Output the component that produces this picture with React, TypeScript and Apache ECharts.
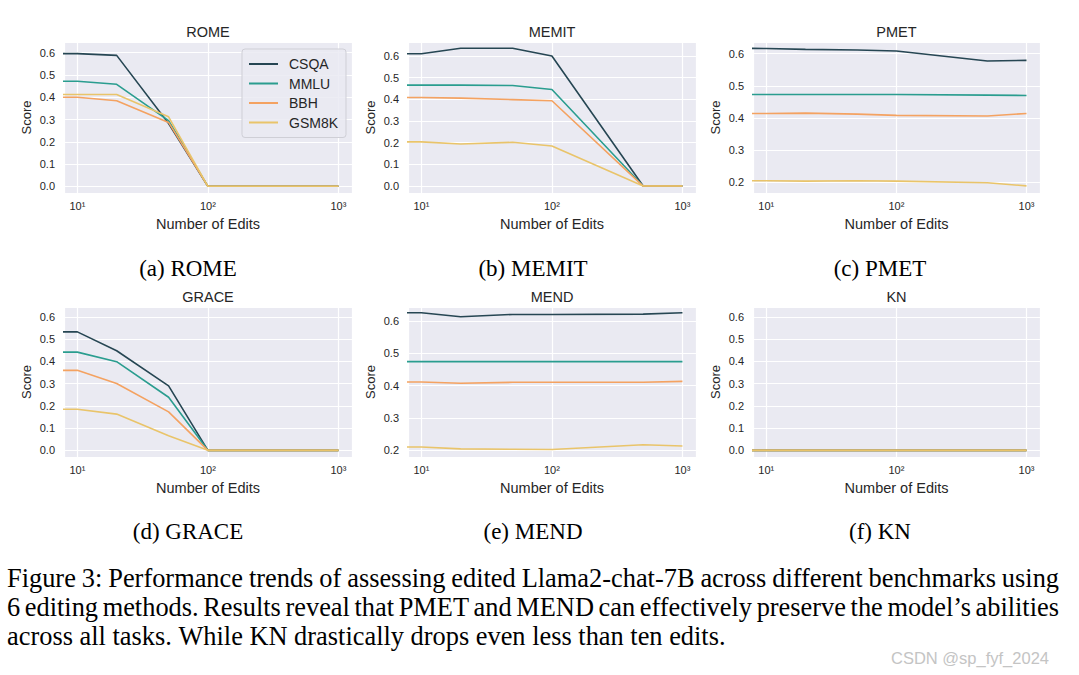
import React, { useEffect, useRef } from 'react';
import * as echarts from 'echarts';

// ---------- data ----------
const EDITS = [1, 10, 20, 50, 100, 500, 1000];
const BENCHMARKS = ['CSQA', 'MMLU', 'BBH', 'GSM8K'];
const COLORS = ['#264653', '#2a9d8f', '#f4a261', '#e9c46a'];
const METHODS = ['ROME', 'MEMIT', 'PMET', 'GRACE', 'MEND', 'KN'];
const SUBCAPTIONS = ['(a) ROME', '(b) MEMIT', '(c) PMET', '(d) GRACE', '(e) MEND', '(f) KN'];

const ROME_CSQA = [0.596, 0.596, 0.588, 0.282, 0, 0, 0];
const ROME_MMLU = [0.472, 0.472, 0.458, 0.295, 0, 0, 0];
const ROME_BBH = [0.4, 0.4, 0.384, 0.287, 0, 0, 0];
const ROME_GSM8K = [0.412, 0.412, 0.412, 0.312, 0, 0, 0];

const MEMIT_CSQA = [0.611, 0.611, 0.636, 0.636, 0.6, 0, 0];
const MEMIT_MMLU = [0.466, 0.466, 0.466, 0.464, 0.446, 0, 0];
const MEMIT_BBH = [0.409, 0.409, 0.406, 0.399, 0.394, 0, 0];
const MEMIT_GSM8K = [0.204, 0.204, 0.194, 0.202, 0.185, 0, 0];

const PMET_CSQA = [0.617, 0.616, 0.613, 0.611, 0.608, 0.577, 0.579];
const PMET_MMLU = [0.473, 0.473, 0.473, 0.473, 0.473, 0.471, 0.47];
const PMET_BBH = [0.414, 0.414, 0.415, 0.412, 0.408, 0.406, 0.414];
const PMET_GSM8K = [0.205, 0.205, 0.204, 0.205, 0.204, 0.199, 0.189];

const GRACE_CSQA = [0.533, 0.533, 0.448, 0.29, 0, 0, 0];
const GRACE_MMLU = [0.442, 0.442, 0.399, 0.239, 0, 0, 0];
const GRACE_BBH = [0.36, 0.36, 0.301, 0.173, 0, 0, 0];
const GRACE_GSM8K = [0.185, 0.185, 0.163, 0.066, 0, 0, 0];

const MEND_CSQA = [0.625, 0.625, 0.613, 0.62, 0.62, 0.621, 0.625];
const MEND_MMLU = [0.474, 0.474, 0.474, 0.474, 0.474, 0.474, 0.474];
const MEND_BBH = [0.411, 0.411, 0.407, 0.41, 0.41, 0.41, 0.413];
const MEND_GSM8K = [0.21, 0.21, 0.204, 0.203, 0.202, 0.217, 0.213];

const KN_CSQA = [0, 0, 0, 0, 0, 0, 0];
const KN_MMLU = [0, 0, 0, 0, 0, 0, 0];
const KN_BBH = [0, 0, 0, 0, 0, 0, 0];
const KN_GSM8K = [0, 0, 0, 0, 0, 0, 0];

const SCORES = [
  [ROME_CSQA, ROME_MMLU, ROME_BBH, ROME_GSM8K],
  [MEMIT_CSQA, MEMIT_MMLU, MEMIT_BBH, MEMIT_GSM8K],
  [PMET_CSQA, PMET_MMLU, PMET_BBH, PMET_GSM8K],
  [GRACE_CSQA, GRACE_MMLU, GRACE_BBH, GRACE_GSM8K],
  [MEND_CSQA, MEND_MMLU, MEND_BBH, MEND_GSM8K],
  [KN_CSQA, KN_MMLU, KN_BBH, KN_GSM8K],
];

const Y_MIN = [-0.03, -0.032, 0.167, -0.03, 0.179, -0.03];
const Y_MAX = [0.648, 0.665, 0.636, 0.645, 0.643, 0.645];
const X_MIN = 7.9;
const X_MAX = 1270;

const CAPTION_LINES = [
  'Figure 3: Performance trends of assessing edited Llama2-chat-7B across different benchmarks using',
  '6 editing methods. Results reveal that PMET and MEND can effectively preserve the model\u2019s abilities',
  'across all tasks. While KN drastically drops even less than ten edits.',
];
const WATERMARK = 'CSDN @sp_fyf_2024';
const SUPERSCRIPTS = ['\u2070', '\u00b9', '\u00b2', '\u00b3'];

// ---------- layout ----------
const COL_LEFT = [64, 408, 753];
const COL_WIDTH = [288, 288, 287];
const ROW_TOP = [42, 307];
const ROW_HEIGHT = [151, 150];
const SANS = 'Arial, "Liberation Sans", Helvetica, sans-serif';
const SERIF = '"Times New Roman", "Liberation Serif", Times, serif';
const TEXT_COLOR = '#262626';

function measure(text: string, fontSize: number) {
  const canvas = document.createElement('canvas');
  const ctx = canvas.getContext('2d') as CanvasRenderingContext2D;
  ctx.font = `${fontSize}px ${SERIF}`;
  return ctx.measureText(text).width;
}

function justified(line: string, x0: number, x1: number, y: number, fontSize: number, justify: boolean) {
  const words = line.split(' ');
  const widths = words.map((w) => measure(w, fontSize));
  const total = widths.reduce((a, b) => a + b, 0);
  const gap = justify ? (x1 - x0 - total) / (words.length - 1) : measure(' ', fontSize);
  const out: any[] = [];
  let x = x0;
  words.forEach((w, i) => {
    out.push({
      type: 'text',
      x,
      y,
      style: {
        text: w,
        fontSize,
        fontFamily: SERIF,
        fill: '#000',
        align: 'left',
        textAlign: 'left',
        verticalAlign: 'middle',
        textVerticalAlign: 'middle',
      },
    });
    x += widths[i] + gap;
  });
  return out;
}

export default function App() {
  const ref = useRef<HTMLDivElement>(null);
  useEffect(() => {
    if (!ref.current) return;
    const chart = echarts.init(ref.current, null, { renderer: 'svg' });

    const grids: any[] = [];
    const xAxes: any[] = [];
    const yAxes: any[] = [];
    const series: any[] = [];
    const graphics: any[] = [];

    METHODS.forEach((m, i) => {
      const r = Math.floor(i / 3);
      const c = i % 3;
      grids.push({
        left: COL_LEFT[c],
        top: ROW_TOP[r],
        width: COL_WIDTH[c],
        height: ROW_HEIGHT[r],
        show: true,
        backgroundColor: '#eaeaf2',
        borderWidth: 0,
        containLabel: false,
      });
      xAxes.push({
        type: 'log',
        logBase: 10,
        gridIndex: i,
        min: X_MIN,
        max: X_MAX,
        name: 'Number of Edits',
        nameLocation: 'middle',
        nameGap: 23,
        nameTextStyle: { fontSize: 14.5, color: TEXT_COLOR, fontFamily: SANS },
        axisLine: { show: false },
        axisTick: { show: false },
        splitLine: { show: true, lineStyle: { color: '#ffffff', width: 1.2 } },
        minorSplitLine: { show: false },
        axisLabel: {
          showMinLabel: false,
          showMaxLabel: false,
          margin: 7,
          fontSize: 11,
          color: TEXT_COLOR,
          fontFamily: SANS,
          formatter: (v: number) => {
            const k = Math.round(Math.log10(v));
            return '10' + (SUPERSCRIPTS[k] || '');
          },
        },
      });
      yAxes.push({
        type: 'value',
        gridIndex: i,
        min: Y_MIN[i],
        max: Y_MAX[i],
        name: 'Score',
        nameLocation: 'middle',
        nameGap: 31,
        nameTextStyle: { fontSize: 13, color: TEXT_COLOR, fontFamily: SANS },
        axisLine: { show: false },
        axisTick: { show: false },
        splitLine: { show: true, lineStyle: { color: '#ffffff', width: 1.2 } },
        axisLabel: {
          showMinLabel: false,
          showMaxLabel: false,
          margin: 9,
          fontSize: 11,
          color: TEXT_COLOR,
          fontFamily: SANS,
          formatter: (v: number) => v.toFixed(1),
        },
      });
      BENCHMARKS.forEach((b, j) => {
        series.push({
          type: 'line',
          name: b,
          xAxisIndex: i,
          yAxisIndex: i,
          data: EDITS.map((e, k) => [e, SCORES[i][j][k]]),
          symbol: 'none',
          clip: true,
          lineStyle: { color: COLORS[j], width: 1.6 },
          itemStyle: { color: COLORS[j] },
          z: 2 + j,
        });
      });
      graphics.push({
        type: 'text',
        x: COL_LEFT[c] + COL_WIDTH[c] / 2,
        y: ROW_TOP[r] - 10,
        style: {
          text: m,
          fontSize: 14.5,
          fontFamily: SANS,
          fill: TEXT_COLOR,
          align: 'center',
          textAlign: 'center',
          verticalAlign: 'middle',
          textVerticalAlign: 'middle',
        },
      });
    });

    const SUBCAP_X = [188, 533, 880];
    const SUBCAP_Y = [268, 531];
    SUBCAPTIONS.forEach((s, i) => {
      const r = Math.floor(i / 3);
      const c = i % 3;
      graphics.push({
        type: 'text',
        x: SUBCAP_X[c],
        y: SUBCAP_Y[r],
        style: {
          text: s,
          fontSize: 23,
          fontFamily: SERIF,
          fill: '#000',
          align: 'center',
          textAlign: 'center',
          verticalAlign: 'middle',
          textVerticalAlign: 'middle',
        },
      });
    });

    // figure caption: size chosen so the last (unjustified) line spans 7..726
    const baseSize = 20;
    const capSize = (baseSize * (726 - 7)) / measure(CAPTION_LINES[2], baseSize);
    const CAP_Y = [578, 607, 636];
    CAPTION_LINES.forEach((l, i) => {
      graphics.push(...justified(l, 7, 1059, CAP_Y[i], capSize, i < 2));
    });

    graphics.push({
      type: 'text',
      x: 1049,
      y: 658,
      style: {
        text: WATERMARK,
        fontSize: 16.5,
        fontFamily: SANS,
        fill: '#c4c4c4',
        align: 'right',
        textAlign: 'right',
        verticalAlign: 'middle',
        textVerticalAlign: 'middle',
      },
    });

    chart.setOption({
      animation: false,
      backgroundColor: '#ffffff',
      grid: grids,
      xAxis: xAxes,
      yAxis: yAxes,
      series,
      legend: {
        data: BENCHMARKS.map((b) => ({ name: b, icon: 'rect' })),
        orient: 'vertical',
        left: 242,
        top: 49,
        itemWidth: 29,
        itemHeight: 2,
        itemGap: 5.5,
        padding: [8, 8, 8, 7],
        backgroundColor: 'rgba(234,234,242,0.85)',
        borderColor: '#cfcfd6',
        borderWidth: 1,
        borderRadius: 3,
        selectedMode: false,
        textStyle: { fontSize: 14, color: TEXT_COLOR, fontFamily: SANS, padding: [0, 0, 0, 6] },
      },
      graphic: graphics,
    });
    return () => chart.dispose();
  }, []);
  return (
    <div
      ref={ref}
      style={{ position: 'absolute', left: 0, top: 0, width: 1079, height: 675 }}
    />
  );
}
